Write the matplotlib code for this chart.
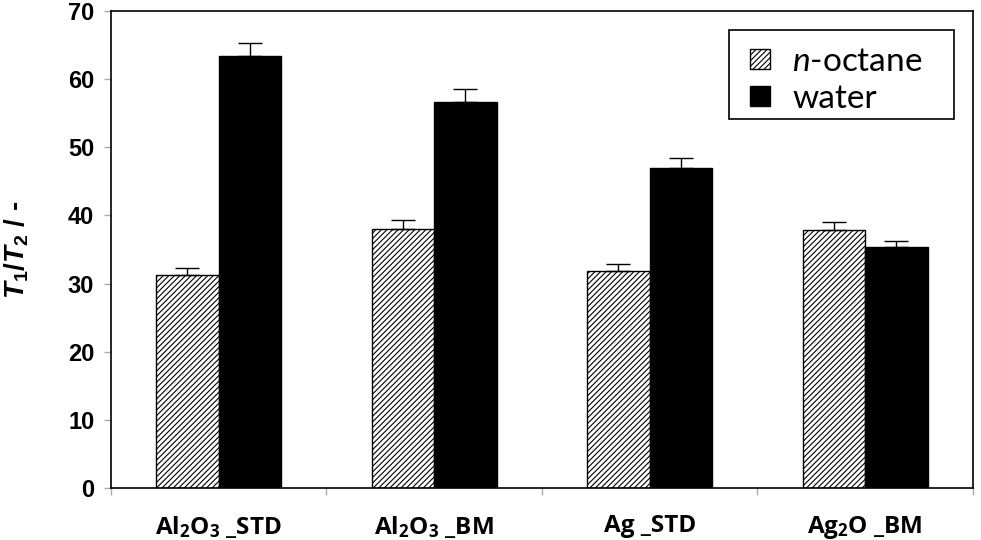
import matplotlib
matplotlib.use("Agg")
import matplotlib.pyplot as plt
from matplotlib.patches import Rectangle
from matplotlib.container import BarContainer
from matplotlib.legend_handler import HandlerPatch, update_from_first_child
from matplotlib.transforms import IdentityTransform
import numpy as np

plt.rcParams['mathtext.fontset'] = 'custom'
plt.rcParams['mathtext.rm'] = 'Open Sans:bold'
plt.rcParams['mathtext.it'] = 'Liberation Sans:italic:bold'
plt.rcParams['mathtext.bf'] = 'Open Sans:bold'
plt.rcParams['mathtext.sf'] = 'Lato:italic'
plt.rcParams['hatch.linewidth'] = 0.8

categories = [r'Al$_\mathregular{2}$O$_\mathregular{3}$ _STD', r'Al$_\mathregular{2}$O$_\mathregular{3}$ _BM',
              'Ag _STD', r'Ag$_\mathregular{2}$O _BM']
octane = [31.3, 38.0, 31.9, 37.8]
octane_err = [1.0, 1.3, 1.0, 1.3]
water = [63.4, 56.7, 47.0, 35.3]
water_err = [1.9, 1.8, 1.5, 1.0]
yticks = [0, 10, 20, 30, 40, 50, 60, 70]

fig = plt.figure(figsize=(9.81, 5.40), dpi=100)
ax = fig.add_axes([0.1131, 0.0963, 0.8787, 0.8833])

x = np.arange(len(categories))
w = 0.29
zeros = [0] * len(categories)
ekw = dict(ecolor='black', elinewidth=1.0, capsize=8.5, capthick=1.0)
ax.bar(x - w / 2, octane, w, color='white', edgecolor='black', hatch='//////', linewidth=1.0,
       label=r'$\mathsf{n}$-octane', yerr=[zeros, octane_err], error_kw=ekw)
ax.bar(x + w / 2, water, w, color='black', edgecolor='black', linewidth=1.0,
       label='water', yerr=[zeros, water_err], error_kw=ekw)

ax.set_xlim(-0.5, len(categories) - 0.5)
ax.set_ylim(0, 70)
ax.set_yticks(yticks)
ax.set_yticklabels([str(t) for t in yticks], fontfamily='Liberation Sans', fontweight='bold', fontsize=17)
ax.set_xticks(np.arange(-0.5, len(categories), 1.0))
ax.set_xticklabels([])
ax.set_xticks(x, minor=True)
ax.set_xticklabels(categories, minor=True, fontfamily='Open Sans', fontweight='bold', fontsize=17.5)
ax.tick_params(axis='x', which='minor', length=0, pad=19)
ax.tick_params(axis='x', which='major', length=5, color='#aaaaaa', width=1)
ax.tick_params(axis='y', length=5, color='#aaaaaa', width=1, pad=7)

for s in ax.spines.values():
    s.set_linewidth(1.2)
    s.set_color('black')

ax.set_ylabel(r'$T$$_\mathregular{1}$/$T$$_\mathregular{2}$ / -', fontfamily='Liberation Sans',
              fontweight='bold', fontsize=20)
ax.yaxis.set_label_coords(-0.093, 0.5)


def square_patch(legend, orig_handle, xdescent, ydescent, width, height, fontsize):
    s = min(width, height)
    return Rectangle((-xdescent, -ydescent + (height - s) / 2), s, s)


hmap = {BarContainer: HandlerPatch(patch_func=square_patch, update_func=update_from_first_child)}

leg = ax.legend(loc='upper left', bbox_to_anchor=(0.7413, 0.925), prop={'family': 'Lato', 'size': 24},
                frameon=False, handlelength=0.6, handleheight=0.6,
                borderpad=0, labelspacing=0.21, handletextpad=0.66, borderaxespad=0, handler_map=hmap)

fig.canvas.draw()
bb = leg.get_window_extent(fig.canvas.get_renderer())
frame = Rectangle((bb.x0 - 21, bb.y0 - 5), bb.width + 21 + 32, bb.height + 5 + 17,
                  transform=IdentityTransform(), facecolor='none', edgecolor='black', linewidth=1.2, zorder=6)
fig.add_artist(frame)

fig.savefig('out.png', dpi=100)
